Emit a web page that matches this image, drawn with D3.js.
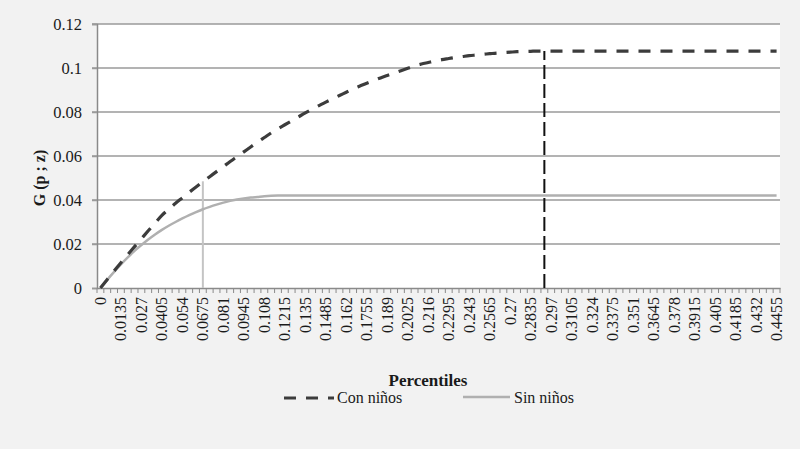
<!DOCTYPE html>
<html><head><meta charset="utf-8">
<script src="https://cdn.jsdelivr.net/npm/d3@7"></script>
<style>body{margin:0;background:#f2f2f2;} svg{display:block;}</style>
</head><body>
<svg id="chart" width="800" height="449"></svg>
<script>
// Categories: percentiles 0 .. 0.4455 step 0.0045 (100 categories); label every 3rd
const percentiles = d3.range(100).map(i => +(i * 0.0045).toFixed(4));
const tickLabels = ["0","0.0135","0.027","0.0405","0.054","0.0675","0.081","0.0945","0.108","0.1215","0.135","0.1485","0.162","0.1755","0.189","0.2025","0.216","0.2295","0.243","0.2565","0.27","0.2835","0.297","0.3105","0.324","0.3375","0.351","0.3645","0.378","0.3915","0.405","0.4185","0.432","0.4455"];
const yTicks = [0, 0.02, 0.04, 0.06, 0.08, 0.1, 0.12];
const yTickLabels = ["0","0.02","0.04","0.06","0.08","0.1","0.12"];

const conNinos = [0,0.0039,0.0077,0.0115,0.0152,0.0188,0.0224,0.0260,0.0295,0.0330,
0.0358,0.0385,0.0410,0.0435,0.0459,0.0483,0.0506,0.0529,0.0552,0.0575,
0.0597,0.0619,0.0641,0.0663,0.0684,0.0705,0.0724,0.0742,0.0760,0.0778,
0.0796,0.0813,0.0829,0.0845,0.0860,0.0875,0.0890,0.0905,0.0918,0.0931,
0.0943,0.0955,0.0966,0.0977,0.0988,0.0999,0.1010,0.1018,0.1025,0.1032,
0.1038,0.1043,0.1048,0.1052,0.1056,0.1059,0.1062,0.1065,0.1068,0.1070,
0.1072,0.1074,0.1075,0.1076,0.1077,0.1077,0.1077,0.1077,0.1077,0.1077,
0.1077,0.1077,0.1077,0.1077,0.1077,0.1077,0.1077,0.1077,0.1077,0.1077,
0.1077,0.1077,0.1077,0.1077,0.1077,0.1077,0.1077,0.1077,0.1077,0.1077,
0.1077,0.1077,0.1077,0.1077,0.1077,0.1077,0.1077,0.1077,0.1077,0.1077];

const sinNinos = [0,0.0037,0.0073,0.0107,0.0139,0.0169,0.0195,0.0220,0.0243,0.0264,
0.0283,0.0300,0.0316,0.0331,0.0345,0.0358,0.0369,0.0379,0.0388,0.0396,
0.0402,0.0407,0.0411,0.0414,0.0417,0.0419,0.0420,0.0420,0.0420,0.0420,
0.0420,0.0420,0.0420,0.0420,0.0420,0.0420,0.0420,0.0420,0.0420,0.0420,
0.0420,0.0420,0.0420,0.0420,0.0420,0.0420,0.0420,0.0420,0.0420,0.0420,
0.0420,0.0420,0.0420,0.0420,0.0420,0.0420,0.0420,0.0420,0.0420,0.0420,
0.0420,0.0420,0.0420,0.0420,0.0420,0.0420,0.0420,0.0420,0.0420,0.0420,
0.0420,0.0420,0.0420,0.0420,0.0420,0.0420,0.0420,0.0420,0.0420,0.0420,
0.0420,0.0420,0.0420,0.0420,0.0420,0.0420,0.0420,0.0420,0.0420,0.0420,
0.0420,0.0420,0.0420,0.0420,0.0420,0.0420,0.0420,0.0420,0.0420,0.0420];

// Vertical marker lines (percentile, top value)
const markerCon = [0.2925, 0.1077];
const markerSin = [0.0675, 0.0485];

const seriesNames = ["Con niños", "Sin niños"];

const svg = d3.select("#chart");
const m = {left: 97, right: 780, top: 24, bottom: 288};
const serif = "'Liberation Serif','DejaVu Serif',serif";

svg.append("rect").attr("width",800).attr("height",449).attr("fill","#f2f2f2");
svg.append("rect").attr("x",m.left).attr("y",m.top).attr("width",m.right-m.left).attr("height",m.bottom-m.top).attr("fill","#ffffff");

const x = d3.scaleBand().domain(percentiles).range([m.left, m.right]).paddingInner(0).paddingOuter(0);
const xc = p => x(p) + x.bandwidth()/2;
const y = d3.scaleLinear().domain([0, 0.12]).range([m.bottom, m.top]);

// gridlines
svg.append("g").selectAll("line").data(yTicks.slice(1)).join("line")
  .attr("x1", m.left - 5).attr("x2", m.right)
  .attr("y1", d => y(d)).attr("y2", d => y(d))
  .attr("stroke", "#9a9a9a").attr("stroke-width", 1.5);

// y axis
const yAxis = d3.axisLeft(y).tickValues(yTicks).tickSize(5).tickPadding(10)
  .tickFormat((d,i) => yTickLabels[i]);
const gy = svg.append("g").attr("transform", `translate(${m.left},0)`).call(yAxis);
gy.select(".domain").attr("stroke","#8a8a8a").attr("stroke-width",1.5);
gy.selectAll(".tick line").attr("stroke","#9a9a9a").attr("stroke-width",1.5);
gy.selectAll("text").attr("font-family", serif).attr("font-size", 16.5).attr("fill","#1a1a1a");

// x axis
const xAxis = d3.axisBottom(x).tickSize(0).tickPadding(0)
  .tickFormat("");
const gx = svg.append("g").attr("transform", `translate(0,${m.bottom})`).call(xAxis);
gx.select(".domain").attr("stroke","#8a8a8a").attr("stroke-width",1.5);
// tick marks at category boundaries
gx.append("g").selectAll("line").data(percentiles.concat(["end"])).join("line")
  .attr("x1", d => d === "end" ? m.right : x(d)).attr("x2", d => d === "end" ? m.right : x(d))
  .attr("y1", 0).attr("y2", 5).attr("stroke","#8a8a8a").attr("stroke-width",1);
// labels every 3rd category
gx.append("g").selectAll("text").data(tickLabels).join("text")
  .attr("transform", (d,i) => `translate(${xc(percentiles[i*3]) + 5.5},${9}) rotate(-90)`)
  .attr("text-anchor","end")
  .attr("font-family", serif).attr("font-size", 16).attr("fill","#1a1a1a")
  .text(d => d);

// vertical markers
svg.append("line")
  .attr("x1", xc(markerSin[0])).attr("x2", xc(markerSin[0]))
  .attr("y1", y(0)).attr("y2", y(markerSin[1]))
  .attr("stroke","#c4c4c4").attr("stroke-width",2);

// lines
const line = d3.line().x((d,i) => xc(percentiles[i])).y(d => y(d)).curve(d3.curveMonotoneX);
svg.append("path").datum(sinNinos).attr("d", line)
  .attr("fill","none").attr("stroke","#b0b0b0").attr("stroke-width",2.5);
svg.append("path").datum(conNinos).attr("d", line)
  .attr("fill","none").attr("stroke","#3c3c3c").attr("stroke-width",3.2)
  .attr("stroke-dasharray","12,10");

svg.append("line")
  .attr("x1", xc(markerCon[0])).attr("x2", xc(markerCon[0]))
  .attr("y1", y(0)).attr("y2", y(markerCon[1]))
  .attr("stroke","#111").attr("stroke-width",2).attr("stroke-dasharray","14,5");

// axis titles
svg.append("text").attr("x", 428).attr("y", 386).attr("text-anchor","middle")
  .attr("font-family", serif).attr("font-weight","bold").attr("font-size",17).attr("fill","#1a1a1a")
  .text("Percentiles");
svg.append("text").attr("transform","translate(45,178) rotate(-90)").attr("text-anchor","middle")
  .attr("font-family", serif).attr("font-weight","bold").attr("font-size",16).attr("fill","#1a1a1a")
  .text("G (p ; z)");

// legend
const lg = svg.append("g");
lg.append("line").attr("x1",284).attr("x2",334).attr("y1",398).attr("y2",398)
  .attr("stroke","#3c3c3c").attr("stroke-width",3.2).attr("stroke-dasharray","12,10");
lg.append("text").attr("x",337).attr("y",403).attr("font-family",serif).attr("font-size",16).attr("fill","#1a1a1a").text(seriesNames[0]);
lg.append("line").attr("x1",463).attr("x2",510).attr("y1",397).attr("y2",397)
  .attr("stroke","#b0b0b0").attr("stroke-width",2.5);
lg.append("text").attr("x",514).attr("y",403).attr("font-family",serif).attr("font-size",16).attr("fill","#1a1a1a").text(seriesNames[1]);
</script>
</body></html>
